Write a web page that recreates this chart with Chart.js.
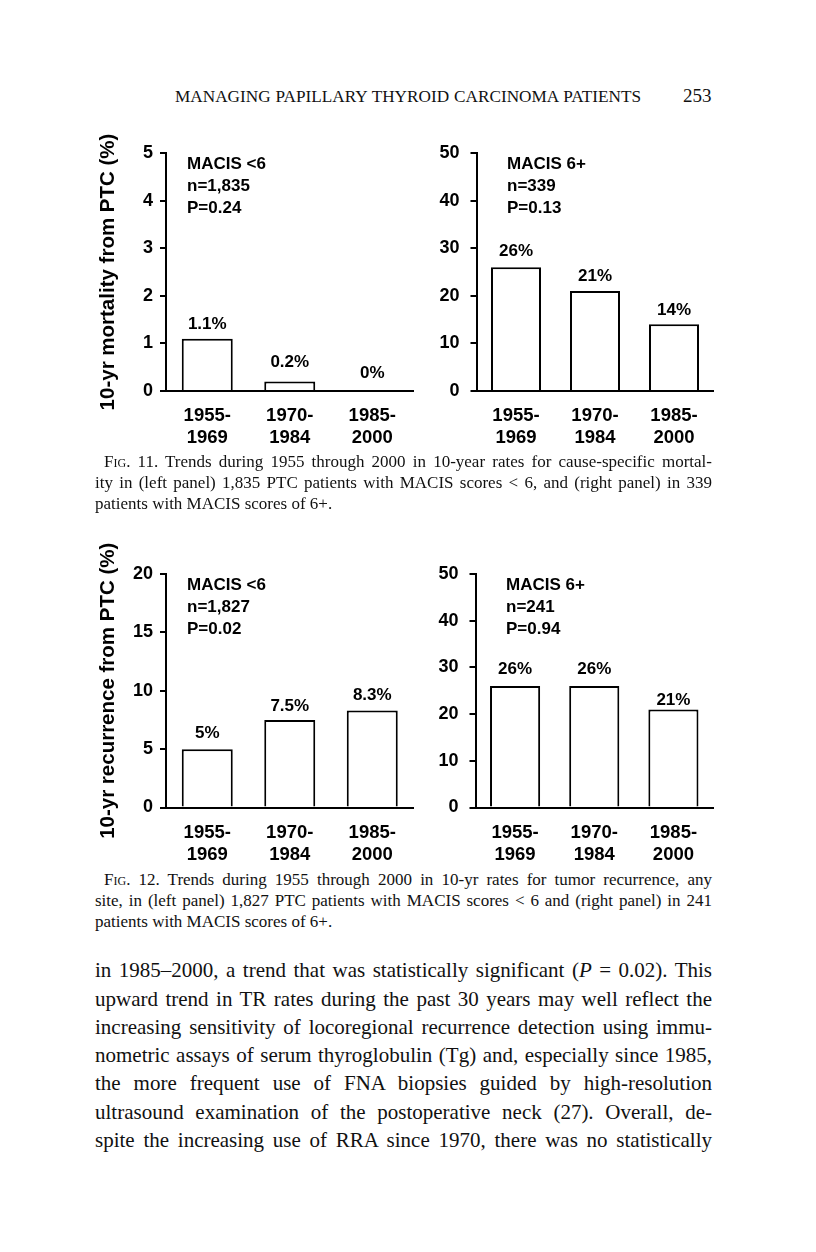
<!DOCTYPE html>
<html>
<head>
<meta charset="utf-8">
<script src="https://cdn.jsdelivr.net/npm/chart.js@4.4.1/dist/chart.umd.min.js"></script>
<style>
html, body { margin: 0; padding: 0; background: #fff; }
body { width: 816px; height: 1252px; position: relative; overflow: hidden; font-family: "Liberation Serif", "Times New Roman", serif; color: #111; }
.t { position: absolute; white-space: nowrap; }
.hdr { font-size: 16px; line-height: 20px; }
.pg { font-size: 19px; line-height: 22px; }
.cap { font-size: 16px; line-height: 20px; }
.body { font-size: 19.5px; line-height: 28px; }
.sc { font-variant: small-caps; }
canvas { position: absolute; }
</style>
</head>
<body>

<div class="t hdr" style="left:175px;top:87px" data-w="466">MANAGING PAPILLARY THYROID CARCINOMA PATIENTS</div>
<div class="t pg" style="left:683px;top:85px">253</div>

<canvas id="fig11a" width="345" height="340" style="left:80px;top:120px"></canvas>
<canvas id="fig11b" width="310" height="340" style="left:426px;top:120px"></canvas>

<div class="t cap" style="left:104px;top:452px" data-w="608">F<span class="sc">ig</span>. 11. Trends during 1955 through 2000 in 10-year rates for cause-specific mortal-</div>
<div class="t cap" style="left:95px;top:473px" data-w="617">ity in (left panel) 1,835 PTC patients with MACIS scores &lt; 6, and (right panel) in 339</div>
<div class="t cap" style="left:95px;top:494px">patients with MACIS scores of 6+.</div>

<canvas id="fig12a" width="345" height="330" style="left:80px;top:540px"></canvas>
<canvas id="fig12b" width="310" height="330" style="left:426px;top:540px"></canvas>

<div class="t cap" style="left:104px;top:870px" data-w="608">F<span class="sc">ig</span>. 12. Trends during 1955 through 2000 in 10-yr rates for tumor recurrence, any</div>
<div class="t cap" style="left:95px;top:891px" data-w="617">site, in (left panel) 1,827 PTC patients with MACIS scores &lt; 6 and (right panel) in 241</div>
<div class="t cap" style="left:95px;top:912px">patients with MACIS scores of 6+.</div>

<div class="t body" style="left:95px;top:956px" data-w="617">in 1985–2000, a trend that was statistically significant (<i>P</i> = 0.02). This</div>
<div class="t body" style="left:95px;top:985px" data-w="617">upward trend in TR rates during the past 30 years may well reflect the</div>
<div class="t body" style="left:95px;top:1013px" data-w="617">increasing sensitivity of locoregional recurrence detection using immu-</div>
<div class="t body" style="left:95px;top:1041px" data-w="617">nometric assays of serum thyroglobulin (Tg) and, especially since 1985,</div>
<div class="t body" style="left:95px;top:1069px" data-w="617">the more frequent use of FNA biopsies guided by high-resolution</div>
<div class="t body" style="left:95px;top:1098px" data-w="617">ultrasound examination of the postoperative neck (27). Overall, de-</div>
<div class="t body" style="left:95px;top:1126px" data-w="617">spite the increasing use of RRA since 1970, there was no statistically</div>

<script>
// data
const periods = [['1955-', '1969'], ['1970-', '1984'], ['1985-', '2000']];
const mortalityLow = [1.1, 0.2, 0];
const mortalityHigh = [26, 21, 14];
const recurrenceLow = [5, 7.5, 8.3];
const recurrenceHigh = [26, 26, 21];
const ticksMortLow = [0, 1, 2, 3, 4, 5];
const ticksRecLow = [0, 5, 10, 15, 20];
const ticksHigh = [0, 10, 20, 30, 40, 50];
const notesMortLow = ['MACIS <6', 'n=1,835', 'P=0.24'];
const notesMortHigh = ['MACIS 6+', 'n=339', 'P=0.13'];
const notesRecLow = ['MACIS <6', 'n=1,827', 'P=0.02'];
const notesRecHigh = ['MACIS 6+', 'n=241', 'P=0.94'];
const titleMort = '10-yr mortality from PTC (%)';
const titleRec = '10-yr recurrence from PTC (%)';

const SANS = '"Liberation Sans", Arial, Helvetica, sans-serif';
Chart.defaults.font.family = SANS;
Chart.defaults.color = '#000';

// grow each text group to the printed width, then justify by word spacing
function fitGroup(cls, maxSize) {
    const els = [...document.querySelectorAll('.' + cls)].filter(el => el.dataset.w);
    const all = document.querySelectorAll('.' + cls);
    const base = parseFloat(getComputedStyle(els[0]).fontSize);
    let ratio = Infinity;
    els.forEach(el => { ratio = Math.min(ratio, Number(el.dataset.w) / el.getBoundingClientRect().width); });
    const size = Math.min(maxSize, base * ratio * 0.995);
    all.forEach(el => { el.style.fontSize = size + 'px'; });
    els.forEach(el => {
        const gaps = (el.textContent.match(/ /g) || []).length;
        const extra = Number(el.dataset.w) - el.getBoundingClientRect().width;
        if (gaps) el.style.wordSpacing = (extra / gaps) + 'px';
    });
}
fitGroup('hdr', 18);
fitGroup('cap', 17);
fitGroup('body', 21);

// value labels, the MACIS notes and the rotated axis title
function panelText(cfg) {
    return {
        id: 'panelText',
        afterDatasetsDraw(chart) {
            const { ctx, chartArea } = chart;
            const values = chart.data.datasets[0].data;
            ctx.save();
            ctx.fillStyle = '#000';
            ctx.font = 'bold 17px ' + SANS;
            ctx.textAlign = 'center';
            ctx.textBaseline = 'middle';
            chart.getDatasetMeta(0).data.forEach((bar, i) => {
                ctx.fillText(values[i] + '%', bar.x, bar.y - cfg.lift[i]);
            });
            ctx.textAlign = 'left';
            cfg.notes.forEach((line, i) => {
                ctx.fillText(line, chartArea.left + cfg.noteX, chartArea.top + 11 + i * 22);
            });
            if (cfg.title) {
                ctx.translate(cfg.titleX, (chartArea.top + chartArea.bottom) / 2);
                ctx.rotate(-Math.PI / 2);
                ctx.textAlign = 'center';
                ctx.font = 'bold 20.5px ' + SANS;
                ctx.fillText(cfg.title, 0, 0);
            }
            ctx.restore();
        }
    };
}

function drawPanel(id, cfg) {
    const ticks = cfg.ticks;
    new Chart(document.getElementById(id), {
        type: 'bar',
        data: {
            labels: periods,
            datasets: [{
                data: cfg.values,
                backgroundColor: '#fff',
                borderColor: '#000',
                borderWidth: 2,
                barPercentage: cfg.barPct,
                categoryPercentage: 1
            }]
        },
        options: {
            responsive: false,
            animation: false,
            events: [],
            layout: { padding: { left: 0, top: cfg.padTop, right: cfg.padRight, bottom: 0 } },
            plugins: { legend: { display: false }, tooltip: { enabled: false } },
            scales: {
                x: {
                    grid: { display: false },
                    border: { color: '#000', width: 2 },
                    ticks: { padding: 6, font: { size: 18.5, weight: 'bold', lineHeight: 1.2 } },
                    afterFit: s => { s.height = cfg.xHeight; }
                },
                y: {
                    min: ticks[0],
                    max: ticks[ticks.length - 1],
                    afterBuildTicks: s => { s.ticks = ticks.map(v => ({ value: v })); },
                    grid: { drawOnChartArea: false, tickLength: 6, lineWidth: 2, color: '#000' },
                    border: { color: '#000', width: 2 },
                    ticks: { padding: cfg.tickPad, font: { size: 18, weight: 'bold' } },
                    afterFit: s => { s.width = cfg.yWidth; }
                }
            }
        },
        plugins: [panelText(cfg)]
    });
}

drawPanel('fig11a', { values: mortalityLow, ticks: ticksMortLow, notes: notesMortLow, title: titleMort,
    titleX: 28, noteX: 21, lift: [14, 19, 18], barPct: 0.618,
    padTop: 33, padRight: 11.5, xHeight: 69, yWidth: 86, tickPad: 7 });
drawPanel('fig11b', { values: mortalityHigh, ticks: ticksHigh, notes: notesMortHigh,
    noteX: 30.5, lift: [15.5, 15, 14], barPct: 0.633,
    padTop: 33, padRight: 22.5, xHeight: 69, yWidth: 50.5, tickPad: 11 });
drawPanel('fig12a', { values: recurrenceLow, ticks: ticksRecLow, notes: notesRecLow, title: titleRec,
    titleX: 28, noteX: 21, lift: [15.5, 14, 15], barPct: 0.618,
    padTop: 34, padRight: 11.5, xHeight: 62.5, yWidth: 86, tickPad: 7 });
drawPanel('fig12b', { values: recurrenceHigh, ticks: ticksHigh, notes: notesRecHigh,
    noteX: 30.5, lift: [16.5, 16.5, 9.5], barPct: 0.633,
    padTop: 34, padRight: 23, xHeight: 62.5, yWidth: 49.5, tickPad: 11 });
</script>
</body>
</html>
